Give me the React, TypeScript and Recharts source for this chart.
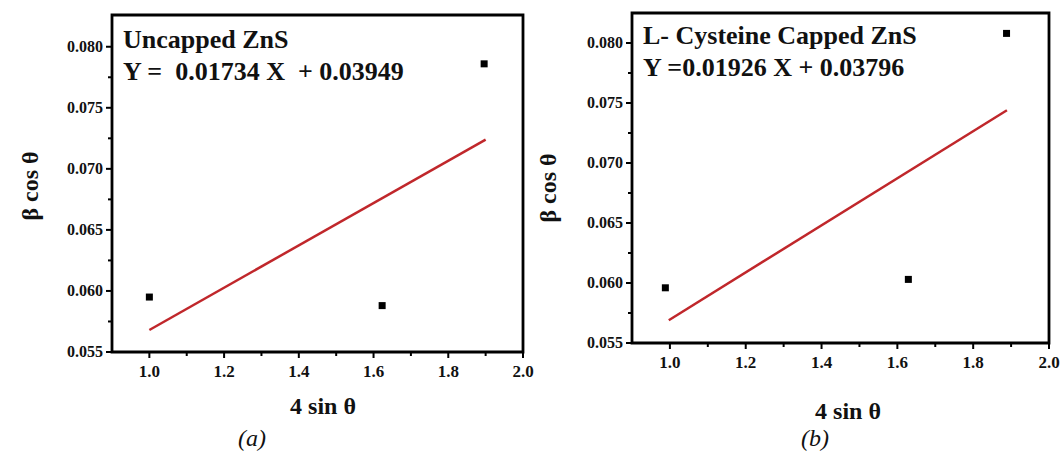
import React from "react";
import { ScatterChart, Scatter, XAxis, YAxis, ReferenceArea } from "recharts";

// Axis ticks (major carry labels, minor are bare marks)
const xTicksMajor = [1.0, 1.2, 1.4, 1.6, 1.8, 2.0];
const xTicksMinor = [1.1, 1.3, 1.5, 1.7, 1.9];
const yTicksMajor = [0.055, 0.06, 0.065, 0.07, 0.075, 0.08];
const yTicksMinor = [0.0575, 0.0625, 0.0675, 0.0725, 0.0775];

// (a) Uncapped ZnS
const uncappedX = [1.0, 1.623, 1.896];
const uncappedY = [0.0595, 0.0588, 0.0786];
const uncappedFitX = [1.0, 1.9];
const uncappedFitY = [0.0568, 0.0724];

// (b) L-Cysteine capped ZnS
const cappedX = [0.988, 1.629, 1.888];
const cappedY = [0.0596, 0.0603, 0.0808];
const cappedFitX = [0.997, 1.889];
const cappedFitY = [0.0569, 0.0744];

const FONT = "'Liberation Serif', 'Times New Roman', Times, serif";
const RED = "#c0272b";
const INK = "#111";

const zip = (xs: number[], ys: number[]) => xs.map((x, i) => ({ x, y: ys[i] }));
const isIn = (list: number[], v: number) => list.some((m) => Math.abs(m - v) < 1e-9);

const boldStyle = { fontFamily: FONT, fontWeight: 700 };

function XTick(props: any) {
  const { x, y, payload } = props;
  const major = isIn(xTicksMajor, payload.value);
  return (
    <g>
      <line x1={x} y1={y} x2={x} y2={y + (major ? 6 : 4)} stroke="#000" strokeWidth={2} />
      {major && (
        <text x={x} y={y + 25} textAnchor="middle" fontSize={17} fill={INK} style={boldStyle}>
          {payload.value.toFixed(1)}
        </text>
      )}
    </g>
  );
}

function YTick(props: any) {
  const { x, y, payload } = props;
  const major = isIn(yTicksMajor, payload.value);
  return (
    <g>
      <line x1={x} y1={y} x2={x - (major ? 6 : 4)} y2={y} stroke="#000" strokeWidth={2} />
      {major && (
        <text x={x - 9} y={y + 5} textAnchor="end" fontSize={16} fill={INK} style={boldStyle}>
          {payload.value.toFixed(3)}
        </text>
      )}
    </g>
  );
}

const Square = (props: any) => {
  const { cx, cy } = props;
  return <rect x={cx - 3.5} y={cy - 3.5} width={7} height={7} fill="#000" />;
};

function Panel({
  left,
  width,
  margin,
  yMax,
  points,
  fit,
}: {
  left: number;
  width: number;
  margin: { top: number; right: number; bottom: number; left: number };
  yMax: number;
  points: { x: number; y: number }[];
  fit: { x: number; y: number }[];
}) {
  return (
    <div style={{ position: "absolute", left, top: 0 }}>
      <ScatterChart width={width} height={452} margin={margin}>
        <XAxis
          type="number"
          dataKey="x"
          domain={[0.9, 2.0]}
          ticks={[...xTicksMajor, ...xTicksMinor].sort((a, b) => a - b)}
          allowDataOverflow
          axisLine={false}
          tickLine={false}
          tickSize={0}
          tickMargin={0}
          tick={<XTick />}
          interval={0}
          height={30}
        />
        <YAxis
          type="number"
          dataKey="y"
          domain={[0.055, yMax]}
          ticks={[...yTicksMajor, ...yTicksMinor].sort((a, b) => a - b)}
          allowDataOverflow
          axisLine={false}
          tickLine={false}
          tickSize={0}
          tickMargin={0}
          tick={<YTick />}
          interval={0}
          width={60}
        />
        <ReferenceArea x1={0.9} x2={2.0} y1={0.055} y2={yMax} fill="none" stroke="#000" strokeWidth={2.8} />
        <Scatter
          data={fit}
          line={{ stroke: RED, strokeWidth: 2.5 }}
          shape={() => <g />}
          isAnimationActive={false}
        />
        <Scatter data={points} shape={<Square />} isAnimationActive={false} />
      </ScatterChart>
    </div>
  );
}

export default function App() {
  const t = { fill: INK, style: { ...boldStyle, whiteSpace: "pre" as const } };
  return (
    <div style={{ position: "absolute", left: 0, top: 0, width: 1061, height: 452, background: "#fff", fontFamily: FONT }}>
      <Panel
        left={0}
        width={545}
        margin={{ top: 15, right: 22, bottom: 70, left: 52 }}
        yMax={0.0826}
        points={zip(uncappedX, uncappedY)}
        fit={zip(uncappedFitX, uncappedFitY)}
      />
      <Panel
        left={530}
        width={531}
        margin={{ top: 13, right: 12, bottom: 79, left: 42 }}
        yMax={0.0825}
        points={zip(cappedX, cappedY)}
        fit={zip(cappedFitX, cappedFitY)}
      />
      <svg
        width={1061}
        height={452}
        style={{ position: "absolute", left: 0, top: 0, pointerEvents: "none" }}
      >
        <text x={123} y={48} fontSize={26} {...t}>Uncapped ZnS</text>
        <text x={123} y={80} fontSize={26} xmlSpace="preserve" {...t}>{"Y =  0.01734 X  + 0.03949"}</text>
        <text x={643} y={44} fontSize={26} {...t}>L- Cysteine Capped ZnS</text>
        <text x={643} y={76} fontSize={26} xmlSpace="preserve" {...t}>{"Y =0.01926 X + 0.03796"}</text>
        <text transform="translate(38,186) rotate(-90)" textAnchor="middle" fontSize={24} {...t}>β cos θ</text>
        <text transform="translate(556,188) rotate(-90)" textAnchor="middle" fontSize={24} {...t}>β cos θ</text>
        <text x={323} y={414} textAnchor="middle" fontSize={24} {...t}>4 sin θ</text>
        <text x={848} y={419} textAnchor="middle" fontSize={24} {...t}>4 sin θ</text>
        <text x={252} y={446} textAnchor="middle" fontSize={24} fill={INK} style={{ fontFamily: FONT, fontStyle: "italic" }}>(a)</text>
        <text x={815} y={446} textAnchor="middle" fontSize={24} fill={INK} style={{ fontFamily: FONT, fontStyle: "italic" }}>(b)</text>
      </svg>
    </div>
  );
}
